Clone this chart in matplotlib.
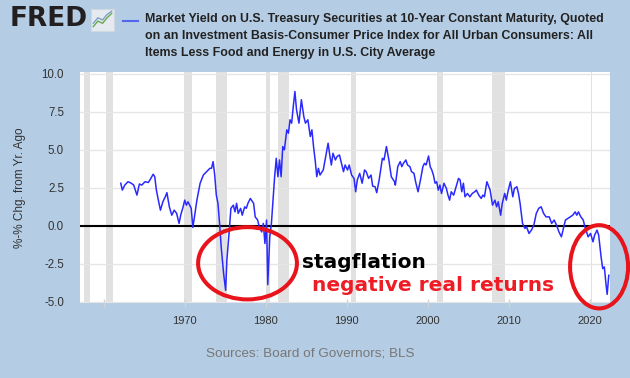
import matplotlib
matplotlib.use("Agg")
import matplotlib.pyplot as plt
from matplotlib.patches import Ellipse
from matplotlib.lines import Line2D

# real 10y yield minus core CPI YoY
years = [
    1962.1, 1962.3, 1962.6, 1963.0, 1963.4, 1963.7, 1964.1, 1964.4, 1964.7, 1965.1,
    1965.5, 1965.7, 1966.1, 1966.3, 1966.5, 1966.7, 1967.0, 1967.3, 1967.6, 1967.8,
    1968.1, 1968.4, 1968.7, 1969.0, 1969.3, 1969.5, 1969.8, 1970.0, 1970.2, 1970.4,
    1970.8, 1971.0, 1971.2, 1971.5, 1971.9, 1972.3, 1972.7, 1972.9, 1973.1, 1973.3,
    1973.5, 1973.7, 1973.9, 1974.1, 1974.3, 1974.5, 1974.8, 1975.05, 1975.2, 1975.5,
    1975.7, 1976.0, 1976.2, 1976.4, 1976.6, 1976.9, 1977.1, 1977.4, 1977.6, 1977.8,
    1978.1, 1978.5, 1978.7, 1979.0, 1979.2, 1979.5, 1979.7, 1979.9, 1980.1, 1980.25,
    1980.5, 1980.7, 1980.9, 1981.1, 1981.3, 1981.5, 1981.7, 1981.9, 1982.1, 1982.3,
    1982.6, 1982.8, 1983.0, 1983.2, 1983.4, 1983.6, 1983.8, 1984.1, 1984.4, 1984.7,
    1984.9, 1985.2, 1985.5, 1985.7, 1985.9, 1986.1, 1986.3, 1986.5, 1986.7, 1987.1,
    1987.4, 1987.7, 1987.9, 1988.1, 1988.3, 1988.6, 1988.8, 1989.1, 1989.4, 1989.6,
    1989.8, 1990.1, 1990.3, 1990.6, 1990.9, 1991.1, 1991.3, 1991.6, 1991.9, 1992.2,
    1992.4, 1992.7, 1993.0, 1993.2, 1993.5, 1993.7, 1994.0, 1994.4, 1994.6, 1994.9,
    1995.2, 1995.5, 1995.9, 1996.0, 1996.3, 1996.6, 1996.8, 1997.0, 1997.3, 1997.5,
    1997.8, 1998.0, 1998.3, 1998.5, 1998.8, 1999.1, 1999.4, 1999.6, 1999.8, 2000.1,
    2000.3, 2000.5, 2000.7, 2000.9, 2001.1, 2001.3, 2001.5, 2001.7, 2002.0, 2002.3,
    2002.5, 2002.7, 2002.9, 2003.2, 2003.5, 2003.8, 2004.0, 2004.2, 2004.4, 2004.6,
    2004.9, 2005.2, 2005.5, 2005.8, 2006.0, 2006.3, 2006.6, 2006.8, 2007.0, 2007.3,
    2007.7, 2008.0, 2008.3, 2008.5, 2008.7, 2009.0, 2009.2, 2009.5, 2009.7, 2009.9,
    2010.2, 2010.5, 2010.7, 2011.0, 2011.2, 2011.4, 2011.7, 2012.0, 2012.2, 2012.5,
    2012.8, 2013.1, 2013.4, 2013.7, 2014.0, 2014.3, 2014.6, 2015.0, 2015.3, 2015.6,
    2015.9, 2016.2, 2016.5, 2016.7, 2017.0, 2017.3, 2017.6, 2017.9, 2018.2, 2018.4,
    2018.6, 2018.9, 2019.2, 2019.4, 2019.8, 2020.1, 2020.4, 2020.6, 2020.9, 2021.1,
    2021.4, 2021.6, 2021.8, 2022.0, 2022.15, 2022.35,
]
values = [
    2.8, 2.35, 2.68, 2.9, 2.8, 2.68, 2.02, 2.75, 2.68, 2.9,
    2.85, 3.01, 3.39, 3.23, 2.35, 1.8, 1.03, 1.58, 1.91, 2.18,
    1.25, 0.7, 1.03, 0.82, 0.16, 0.7, 1.25, 1.69, 1.36, 1.58,
    1.15, -0.1, 0.59, 1.69, 2.8, 3.34, 3.56, 3.67, 3.78, 3.78,
    4.22, 3.34, 2.02, 1.48, 0.16, -1.38, -3.14, -4.24, -2.26, -0.28,
    1.15, 1.36, 0.92, 1.48, 0.82, 1.15, 0.7, 1.25, 1.15, 1.48,
    1.8, 1.48, 0.59, 0.38, -0.06, -0.4, 0.16, -1.16, 0.38, -3.86,
    -0.72, 0.16, 1.69, 3.23, 4.44, 3.23, 4.33, 3.23, 5.21, 4.99,
    6.31, 6.09, 6.97, 6.75, 7.84, 8.83, 7.63, 6.75, 8.29, 7.18,
    6.75, 6.97, 5.87, 6.31, 5.21, 4.33, 3.23, 3.78, 3.34, 3.67,
    4.55, 5.43, 4.66, 4.0, 4.77, 4.33, 4.55, 4.66, 4.0, 3.56,
    4.0, 3.67, 4.0, 3.34, 3.12, 2.24, 3.01, 3.45, 2.8, 3.67,
    3.56, 3.12, 3.34, 2.61, 2.57, 2.18, 3.01, 4.44, 4.33, 5.21,
    4.33, 3.23, 2.9, 2.68, 3.89, 4.22, 3.89, 4.11, 4.33, 4.0,
    3.89, 3.56, 3.45, 2.9, 2.24, 3.01, 3.89, 4.11, 4.0, 4.59,
    3.89, 3.67, 3.34, 2.8, 2.9, 2.35, 2.68, 2.13, 2.8, 2.46,
    2.02, 1.69, 2.24, 2.02, 2.57, 3.12, 3.01, 2.24, 2.8, 1.91,
    2.13, 1.91, 2.13, 2.24, 2.35, 2.02, 1.8, 2.02, 1.91, 2.9,
    2.35, 1.36, 1.69, 1.25, 1.58, 0.7, 1.48, 2.13, 1.69, 2.24,
    2.9, 1.91, 2.46, 2.57, 2.13, 1.48, 0.16, -0.17, -0.06, -0.5,
    -0.28, 0.05, 0.82, 1.15, 1.25, 0.82, 0.59, 0.59, 0.16, 0.38,
    0.05, -0.4, -0.72, -0.28, 0.38, 0.49, 0.59, 0.7, 0.92, 0.7,
    0.92, 0.59, 0.38, -0.06, -0.72, -0.5, -1.05, -0.61, -0.28, -0.61,
    -2.04, -2.81, -2.7, -3.8, -4.5, -3.25,
]

# NBER recessions (start, end)
rec_start = [1957.6, 1960.3, 1969.9, 1973.9, 1980.0, 1981.5, 1990.5, 2001.2, 2007.9, 2020.1]
rec_end = [1958.3, 1961.1, 1970.9, 1975.2, 1980.5, 1982.9, 1991.2, 2001.9, 2009.5, 2020.3]

yticks = [-5.0, -2.5, 0.0, 2.5, 5.0, 7.5, 10.0]
xticks = [1960, 1970, 1980, 1990, 2000, 2010, 2020]
xlabels = ["", "1970", "1980", "1990", "2000", "2010", "2020"]

title_lines = [
    "Market Yield on U.S. Treasury Securities at 10-Year Constant Maturity, Quoted",
    "on an Investment Basis-Consumer Price Index for All Urban Consumers: All",
    "Items Less Food and Energy in U.S. City Average",
]

BG = "#b4cde4"
W, H = 630, 378

fig = plt.figure(figsize=(W / 100, H / 100), dpi=100, facecolor=BG)
ax = fig.add_axes([80 / W, 1 - 303 / H, 530 / W, 231 / H])
ax.set_facecolor("white")

for s, e in zip(rec_start, rec_end):
    ax.axvspan(s, e, color="#e1e1e1", lw=0, zorder=0)

for y in yticks:
    ax.axhline(y, color="#e6e6e6", lw=1, zorder=0.5)
ax.axhline(0, color="black", lw=1.5, zorder=2)

ax.plot(years, values, color="#2a2aff", lw=1.1, zorder=3)

ax.set_xlim(1957.07, 2022.5)
ax.set_ylim(-5.07, 10.11)
for sp in ax.spines.values():
    sp.set_visible(False)

ax.set_yticks(yticks)
ax.set_yticklabels([f"{v:.1f}" for v in yticks], fontsize=8.3,
                   color="#333333", family="Liberation Sans")
ax.tick_params(axis="y", length=0, pad=11.5)
ax.set_xticks(xticks)
ax.set_xticklabels(xlabels, fontsize=8, color="#333333", family="Liberation Sans")
ax.tick_params(axis="x", length=6, color="#d4d4d4", width=1, pad=6, direction="inout")

fig.text(20 / W, 1 - 188 / H, "%-% Chg. from Yr. Ago", rotation=90, ha="center",
         va="center", fontsize=8.5, color="#333333", family="Liberation Sans")

# annotations
ax.add_patch(Ellipse((1977.75, -2.46), 12.2, 4.75, fill=False, ec="#e8131b",
                     lw=2.9, zorder=4, clip_on=False))
ax.add_patch(Ellipse((2021.15, -2.69), 7.16, 5.47, fill=False, ec="#e8131b",
                     lw=2.9, zorder=4, clip_on=False))
ax.text(1984.5, -2.39, "stagflation", fontsize=14.5, fontweight="bold",
        family="DejaVu Sans", color="black", va="center", ha="left", zorder=5)
ax.text(1985.7, -3.91, "negative real returns", fontsize=14.5, fontweight="bold",
        family="DejaVu Sans", color="#ee1c25", va="center", ha="left", zorder=5)

# header: FRED logo, legend swatch, series title
fig.text(10 / W, 1 - 19 / H, "FRED", fontsize=19, fontweight="bold",
         family="DejaVu Sans", color="#231f20", va="center", ha="left")
icon = fig.add_axes([91 / W, 1 - 31 / H, 23 / W, 22 / H])
icon.set_facecolor("#e4eaf0")
icon.plot([0.1, 0.3, 0.5, 0.7, 0.9], [0.2, 0.45, 0.35, 0.6, 0.8], color="#6aa84f", lw=1)
icon.plot([0.1, 0.3, 0.5, 0.7, 0.9], [0.35, 0.6, 0.5, 0.75, 0.9], color="#7f9fc6", lw=1)
icon.set_xlim(0, 1)
icon.set_ylim(0, 1)
icon.set_xticks([])
icon.set_yticks([])
for sp in icon.spines.values():
    sp.set_color("#d0d8e0")

fig.add_artist(Line2D([123 / W, 138 / W], [1 - 21 / H, 1 - 21 / H],
                      color="#5566ee", lw=1.5, transform=fig.transFigure))
for i, line in enumerate(title_lines):
    fig.text(145 / W, 1 - (19 + 17 * i) / H, line, fontsize=8.9, fontweight="bold",
             family="Liberation Sans", color="#222222", va="center", ha="left")

fig.text(310 / W, 1 - 354 / H, "Sources: Board of Governors; BLS", fontsize=9.7,
         family="Liberation Sans", color="#777777", ha="center", va="center")

fig.savefig("out.png", dpi=100, facecolor=BG)
